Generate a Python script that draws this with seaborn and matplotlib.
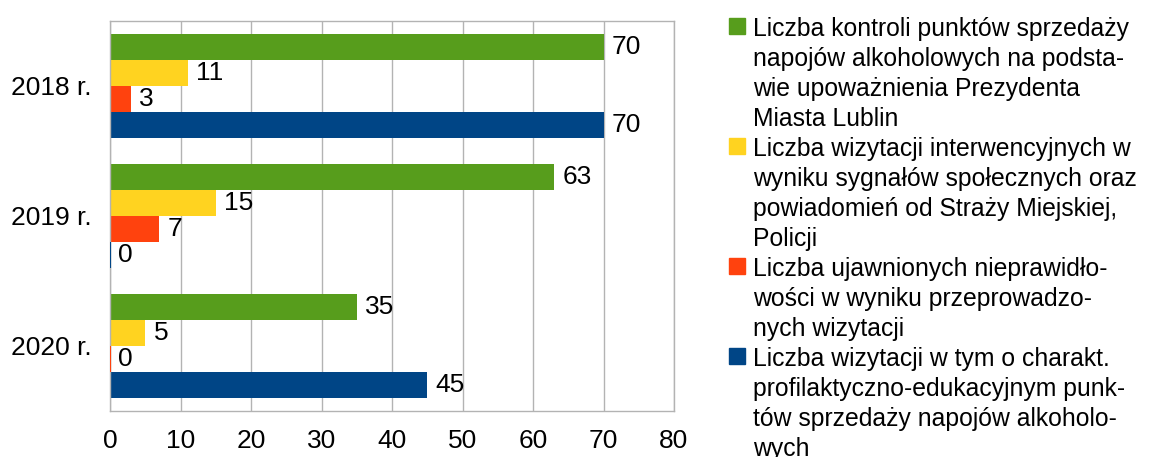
import pandas as pd
import matplotlib.pyplot as plt
import seaborn as sns
from matplotlib.patches import Rectangle
from matplotlib.ticker import FixedLocator

# ---- data ----
years = ["2018 r.", "2019 r.", "2020 r."]
series = ["kontrole", "interwencyjne", "nieprawidlowosci", "profilaktyczne"]
kontrole = [70, 63, 35]
interwencyjne = [11, 15, 5]
nieprawidlowosci = [3, 7, 0]
profilaktyczne = [70, 0, 45]
colors = ["#579d1c", "#ffd320", "#ff420e", "#004586"]

legend_lines = [
    ["Liczba kontroli punktów sprzedaży",
     "napojów alkoholowych na podsta-",
     "wie upoważnienia Prezydenta",
     "Miasta Lublin"],
    ["Liczba wizytacji interwencyjnych w",
     "wyniku sygnałów społecznych oraz",
     "powiadomień od Straży Miejskiej,",
     "Policji"],
    ["Liczba ujawnionych nieprawidło-",
     "wości w wyniku przeprowadzo-",
     "nych wizytacji"],
    ["Liczba wizytacji w tym o charakt.",
     "profilaktyczno-edukacyjnym punk-",
     "tów sprzedaży napojów alkoholo-",
     "wych"],
]

df = pd.DataFrame({
    "year": years * 4,
    "series": [s for s in series for _ in years],
    "value": kontrole + interwencyjne + nieprawidlowosci + profilaktyczne,
})

W, H = 1161, 457
GRID = "#b3b3b3"

sns.set_style("white")
plt.rcParams["font.family"] = ["Liberation Sans", "DejaVu Sans"]

fig = plt.figure(figsize=(W / 100, H / 100), dpi=100)
ax = fig.add_axes([110 / W, 1 - 410.7 / H, (674 - 110) / W, (410.7 - 21) / H])

sns.barplot(
    data=df, x="value", y="year", hue="series",
    order=years, hue_order=series, palette=colors,
    orient="h", width=0.8, gap=0, saturation=1, legend=False, ax=ax,
    edgecolor="none", linewidth=0,
)

# zero-length bars still show as a thin line
for p in ax.patches:
    if p.get_width() == 0:
        p.set_edgecolor(p.get_facecolor())
        p.set_linewidth(1.5)
        p.set_zorder(3)

for cont in ax.containers:
    ax.bar_label(cont, padding=6, fontsize=19, color="black")

ax.set_xlim(0, 80)
ax.set_ylim(2.5, -0.5)
ax.set_xticks(range(0, 81, 10))
ax.grid(axis="x", color=GRID, linewidth=1)
ax.set_axisbelow(True)
ax.set_xlabel("")
ax.set_ylabel("")

ax.tick_params(axis="x", length=8, width=1, color=GRID, pad=5,
               labelsize=19, labelcolor="black")
ax.set_yticks(range(len(years)), labels=years)
ax.tick_params(axis="y", which="major", length=0, pad=13,
               labelsize=19, labelcolor="black")
ax.yaxis.set_minor_locator(FixedLocator([-0.5, 0.5, 1.5, 2.5]))
ax.tick_params(axis="y", which="minor", length=8, width=1, color=GRID)

for side in ["left", "bottom", "top", "right"]:
    ax.spines[side].set_visible(True)
    ax.spines[side].set_color(GRID)
    ax.spines[side].set_linewidth(1)

# ---- legend (entries wrapped like the original) ----
line = 0
for color, lines in zip(colors, legend_lines):
    top = 18 + 30 * line
    fig.add_artist(Rectangle((729 / W, 1 - (top + 16) / H), 16 / W, 16 / H,
                             transform=fig.transFigure, color=color))
    for txt in lines:
        fig.text(753 / W, 1 - (36 + 30 * line) / H, txt, fontsize=17.8,
                 va="baseline", ha="left", color="black")
        line += 1

fig.savefig("out.png", dpi=100)
